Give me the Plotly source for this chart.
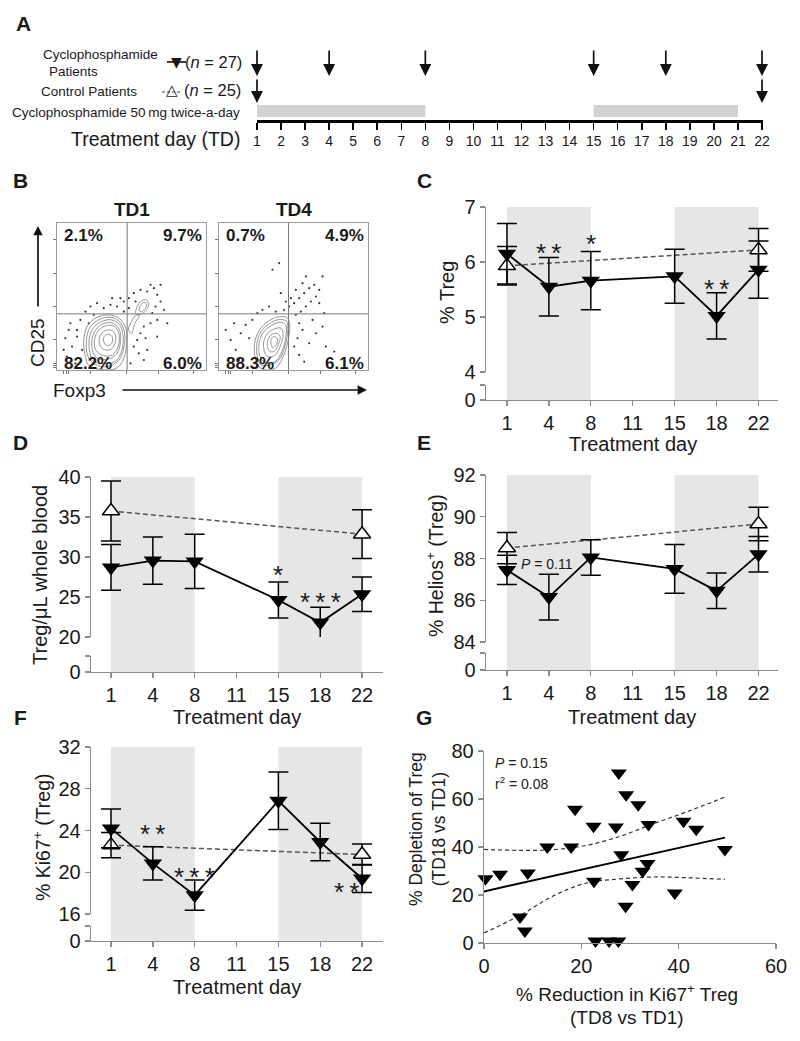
import plotly.graph_objects as go

FONT = "Liberation Sans, Arial, Helvetica, sans-serif"
W, H = 800, 1041
AX = "#8c8c8c"
TXT = "#1a1a1a"

# ------------------------------------------------------------------ data
timeline_days = [1, 2, 3, 4, 5, 6, 7, 8, 9, 10, 11, 12, 13, 14, 15, 16, 17, 18, 19, 20, 21, 22]
blood_draw_cyc = [1, 4, 8, 15, 18, 22]
blood_draw_ctl = [1, 22]
dosing_periods = [(1, 8), (15, 21)]

days = ["1", "4", "8", "11", "15", "18", "22"]
cyc_days = ["1", "4", "8", "15", "18", "22"]
ctl_days = ["1", "22"]
shade_periods = [("1", "8"), ("15", "22")]

# C: % Treg
treg_pct_cyc = [6.15, 5.55, 5.66, 5.74, 5.02, 5.86]
treg_pct_cyc_err = [0.55, 0.53, 0.53, 0.49, 0.42, 0.52]
treg_pct_ctl = [5.93, 6.22]
treg_pct_ctl_err = [0.35, 0.39]
treg_pct_stars = [("4", 0, 6.28, "**"), ("8", 0, 6.43, "*"), ("18", 0, 5.62, "**")]

# D: Treg / uL whole blood
treg_cnt_cyc = [28.7, 29.55, 29.45, 24.63, 21.8, 25.35]
treg_cnt_cyc_err = [2.85, 2.95, 3.4, 2.25, 1.93, 2.15]
treg_cnt_ctl = [35.75, 32.85]
treg_cnt_ctl_err = [3.75, 3.05]
treg_cnt_stars = [("15", 0, 28.5, "*"), ("18", 0, 25.1, "***")]

# E: % Helios+ (Treg)
helios_cyc = [87.45, 86.15, 88.05, 87.5, 86.45, 88.2]
helios_cyc_err = [0.7, 1.1, 0.85, 1.17, 0.85, 0.85]
helios_ctl = [88.5, 89.65]
helios_ctl_err = [0.75, 0.8]

# F: % Ki67+ (Treg)
ki67_cyc = [24.2, 20.85, 17.8, 26.85, 22.9, 19.4]
ki67_cyc_err = [1.85, 1.6, 1.45, 2.75, 1.8, 1.35]
ki67_ctl = [22.6, 21.7]
ki67_ctl_err = [1.2, 1.0]
ki67_stars = [("4", 0, 24.2, "**"), ("8", 0, 20.1, "***"), ("22", -0.38, 18.7, "**")]

# G: scatter
ki67_reduction = [0.3, 3.3, 9.0, 13.0, 17.9, 18.7, 7.4, 8.4, 22.5, 22.6, 22.9, 25.7, 27.6, 27.1,
                  27.7, 28.2, 29.2, 29.1, 30.5, 31.7, 32.6, 33.6, 33.8, 39.2, 41.0, 43.6, 49.5]
treg_depletion = [26.8, 28.6, 29.2, 40.0, 40.0, 55.7, 10.8, 5.0, 48.6, 25.7, 0.8, 0.8, 0.8, 48.3,
                  70.8, 36.8, 61.8, 15.3, 24.4, 57.6, 29.9, 33.1, 49.4, 20.8, 50.7, 47.4, 39.0]
fit_x = [0, 49.5]
fit_y = [21.5, 43.9]
band_x = [0, 7.4, 14.2, 21.1, 27.9, 34.8, 41.6, 49.5]
band_upper = [39.0, 38.6, 38.9, 40.7, 44.4, 49.7, 54.6, 60.8]
band_lower = [4.2, 11.5, 19.6, 25.0, 26.7, 27.5, 27.2, 26.5]

# B: flow cytometry (channel units)
td1_pct = ["2.1%", "9.7%", "82.2%", "6.0%"]
td4_pct = ["0.7%", "4.9%", "88.3%", "6.1%"]
td1_gate = (210, 168)
td4_gate = (208, 168)
td1_rings = [
    [(86, 35), (80, 85), (90, 130), (118, 157), (156, 165), (186, 155), (206, 125), (208, 80), (200, 35), (178, 5), (128, 2), (96, 12)],
    [(93, 40), (88, 88), (99, 128), (126, 151), (160, 158), (187, 145), (202, 112), (200, 68), (186, 30), (150, 10), (112, 18)],
    [(100, 45), (96, 90), (108, 125), (133, 145), (163, 150), (188, 135), (198, 100), (193, 55), (173, 25), (133, 20), (108, 27)],
    [(108, 52), (105, 92), (117, 122), (140, 139), (168, 140), (187, 120), (190, 85), (180, 50), (153, 32), (122, 35)],
    [(116, 60), (113, 95), (126, 120), (148, 133), (173, 130), (186, 105), (183, 70), (166, 45), (138, 43)],
    [(128, 75), (128, 100), (140, 115), (158, 120), (173, 110), (175, 85), (163, 63), (143, 60)],
    [(140, 85), (141, 100), (153, 107), (165, 100), (164, 80), (150, 73)],
    [(236, 167), (240, 190), (253, 207), (268, 210), (274, 197), (268, 180), (250, 167)],
    [(246, 177), (250, 193), (261, 202), (268, 197), (263, 183), (253, 175)],
    [(214, 120), (223, 145), (238, 165), (246, 163), (233, 140), (223, 110)],
]
td4_rings = [
    [(110, 30), (106, 75), (118, 115), (146, 145), (178, 159), (203, 157), (212, 135), (206, 85), (190, 35), (168, 5), (128, 3)],
    [(116, 35), (113, 78), (125, 114), (151, 139), (180, 151), (202, 146), (206, 118), (197, 70), (179, 30), (150, 14), (126, 15)],
    [(123, 40), (120, 80), (133, 113), (156, 133), (183, 143), (200, 135), (200, 100), (188, 55), (168, 25), (138, 23)],
    [(136, 55), (134, 85), (146, 110), (166, 123), (186, 125), (192, 105), (183, 70), (166, 43), (146, 40)],
    [(146, 67), (146, 90), (156, 105), (173, 110), (183, 100), (178, 77), (166, 57), (153, 55)],
    [(156, 77), (156, 93), (166, 100), (175, 93), (171, 75), (161, 67)],
]
td1_dots_x = [30, 45, 25, 60, 70, 55, 40, 85, 100, 120, 140, 160, 180, 200, 215, 230, 250, 270, 290, 300,
              310, 295, 285, 300, 280, 260, 250, 240, 230, 245, 260, 220, 75, 60, 95, 215, 235, 280, 310, 320,
              265, 200, 190, 165, 110, 35, 20, 270, 300, 330]
td1_dots_y = [40, 70, 95, 120, 150, 20, 140, 175, 190, 200, 185, 195, 190, 205, 215, 230, 240, 235, 245, 225,
              205, 190, 170, 150, 140, 130, 110, 90, 70, 50, 30, 20, 60, 100, 140, 185, 205, 255, 255, 180,
              95, 175, 215, 215, 165, 120, 60, 60, 100, 140]
td4_dots_x = [30, 50, 35, 65, 80, 100, 115, 130, 150, 170, 60, 90, 20, 45, 195, 210, 225, 240, 255, 270,
              285, 300, 290, 275, 260, 245, 230, 240, 250, 235, 225, 240, 255, 270, 290, 310, 315, 280, 215, 230,
              250, 300, 200, 185, 160, 180, 320, 345, 310, 260]
td4_dots_y = [35, 60, 90, 110, 135, 150, 170, 180, 190, 175, 30, 95, 120, 140, 180, 190, 200, 215, 230, 245,
              255, 240, 220, 205, 190, 175, 165, 140, 120, 95, 70, 45, 25, 80, 110, 130, 170, 150, 215, 240,
              260, 200, 205, 230, 300, 320, 70, 55, 280, 280]


def X(px):
    return px / W


def Y(py):
    return 1 - py / H


fig = go.Figure()
annotations = []
shapes = []


def ann(text, px, py, size=20, xanchor="center", yanchor="middle", angle=0, family=FONT, color=TXT):
    annotations.append(dict(text=text, x=X(px), y=Y(py), xref="paper", yref="paper", showarrow=False,
                            font=dict(size=size, family=family, color=color), xanchor=xanchor,
                            yanchor=yanchor, textangle=angle))


def arrow(x, py, ax, ay, xref="paper", size=1.1):
    annotations.append(dict(text="", x=x, y=Y(py), xref=xref, yref="paper", ax=ax, ay=ay,
                            axref="pixel", ayref="pixel", showarrow=True, arrowhead=2,
                            arrowsize=size, arrowwidth=1.7, arrowcolor="#111"))


common = dict(showline=True, linecolor=AX, linewidth=1.3, ticks="outside", ticklen=5, tickwidth=1.3,
              tickcolor=AX, showgrid=False, zeroline=False, fixedrange=True, automargin=False,
              tickfont=dict(size=20, color=TXT, family=FONT))
layout_axes = {}


def time_panel(nx, ny, nb, xl, xr, xrange, ytop, ybot, btop, bbot, yrange, yticks,
               cyc, cyc_err, ctl, ctl_err, stars):
    layout_axes[f"xaxis{nx}"] = dict(domain=[X(xl), X(xr)], type="category", categoryorder="array",
                                     categoryarray=days, range=xrange, anchor=f"y{nb}", **common)
    layout_axes[f"yaxis{ny}"] = dict(domain=[Y(ybot), Y(ytop)], range=yrange, tickvals=yticks,
                                     anchor=f"x{nx}", **common)
    layout_axes[f"yaxis{nb}"] = dict(domain=[Y(bbot), Y(btop)], range=[0, 1], tickvals=[0, 1],
                                     ticktext=["0", ""], anchor=f"x{nx}", **common)
    fig.add_trace(go.Scatter(x=[], y=[], xaxis=f"x{nx}", yaxis=f"y{nb}", showlegend=False))
    for a, b in shade_periods:
        shapes.append(dict(type="rect", xref=f"x{nx}", yref="paper", x0=days.index(a), x1=days.index(b),
                           y0=Y(bbot), y1=Y(ytop), fillcolor="#e6e6e6", line=dict(width=0), layer="below"))
    fig.add_trace(go.Scatter(
        x=ctl_days, y=ctl, xaxis=f"x{nx}", yaxis=f"y{ny}", mode="lines+markers", cliponaxis=False,
        line=dict(color="#555555", width=1.5, dash="5px,3px"),
        marker=dict(symbol="triangle-up", size=15, color="white", line=dict(color="black", width=1.5)),
        error_y=dict(type="data", array=ctl_err, color="black", thickness=1.5, width=10)))
    fig.add_trace(go.Scatter(
        x=cyc_days, y=cyc, xaxis=f"x{nx}", yaxis=f"y{ny}", mode="lines+markers", cliponaxis=False,
        line=dict(color="black", width=1.8),
        marker=dict(symbol="triangle-down", size=16, color="black"),
        error_y=dict(type="data", array=cyc_err, color="black", thickness=1.5, width=10)))
    for sday, off, sy, s in stars:
        annotations.append(dict(text="\u2009".join(s), x=days.index(sday) + off, y=sy, xref=f"x{nx}",
                                yref=f"y{ny}", showarrow=False, yshift=-6,
                                font=dict(size=26, family=FONT, color=TXT)))


# C
time_panel(2, 2, 3, 486, 778, [-0.5, 6.465], 207, 372, 385, 400, [4, 7], [4, 5, 6, 7],
           treg_pct_cyc, treg_pct_cyc_err, treg_pct_ctl, treg_pct_ctl_err, treg_pct_stars)
# D
time_panel(4, 4, 5, 91, 383, [-0.478, 6.5], 477, 637, 656, 672, [20, 40], [20, 25, 30, 35, 40],
           treg_cnt_cyc, treg_cnt_cyc_err, treg_cnt_ctl, treg_cnt_ctl_err, treg_cnt_stars)
# E
time_panel(6, 6, 7, 486, 778, [-0.5, 6.465], 475, 642, 653, 670, [84, 92], [84, 86, 88, 90, 92],
           helios_cyc, helios_cyc_err, helios_ctl, helios_ctl_err, [])
# F
time_panel(8, 8, 9, 91, 383, [-0.478, 6.5], 747, 914, 926, 941, [16, 32], [16, 20, 24, 28, 32],
           ki67_cyc, ki67_cyc_err, ki67_ctl, ki67_ctl_err, ki67_stars)

# G
layout_axes["xaxis10"] = dict(domain=[X(484), X(776)], range=[0, 60], tickvals=[0, 20, 40, 60],
                              anchor="y10", **common)
layout_axes["yaxis10"] = dict(domain=[Y(943), Y(751)], range=[0, 80], tickvals=[0, 20, 40, 60, 80],
                              anchor="x10", **common)
for yb in (band_upper, band_lower):
    fig.add_trace(go.Scatter(x=band_x, y=yb, xaxis="x10", yaxis="y10", mode="lines",
                             line=dict(color="#333", width=1.2, dash="4px,3px", shape="spline")))
fig.add_trace(go.Scatter(x=fit_x, y=fit_y, xaxis="x10", yaxis="y10", mode="lines",
                         line=dict(color="black", width=2)))
fig.add_trace(go.Scatter(x=ki67_reduction, y=treg_depletion, xaxis="x10", yaxis="y10", mode="markers",
                         cliponaxis=False, marker=dict(symbol="triangle-down", size=14, color="black")))

# A timeline
layout_axes["xaxis"] = dict(domain=[X(256.5), X(762.5)], range=[0.98, 22.02], tickvals=timeline_days,
                            anchor="y", showline=True, linecolor="black", linewidth=2.5, ticks="outside",
                            ticklen=7, tickwidth=1.5, tickcolor="black", showgrid=False, zeroline=False,
                            automargin=False,
                            tickfont=dict(size=14, color=TXT, family=FONT), fixedrange=True)
layout_axes["yaxis"] = dict(domain=[Y(120), Y(100)], range=[0, 1], visible=False, fixedrange=True,
                            automargin=False)
fig.add_trace(go.Scatter(x=[], y=[], xaxis="x", yaxis="y", showlegend=False))
for a, b in dosing_periods:
    shapes.append(dict(type="rect", xref="x", yref="paper", x0=a, x1=b, y0=Y(117), y1=Y(105),
                       fillcolor="#d2d2d2", line=dict(width=0)))
for d in blood_draw_cyc:
    arrow(d, 76, 0, -27, xref="x", size=1.4)
for d in blood_draw_ctl:
    arrow(d, 103, 0, -25, xref="x", size=1.4)

ann("Cyclophosphamide", 100, 55, size=13.5)
ann("Patients", 73, 72, size=13.5)
ann("Control Patients", 89, 91, size=13.5)
ann("Cyclophosphamide 50\u2009mg twice-a-day", 242, 112, size=13.5, xanchor="right")
ann("Treatment day (TD)", 242, 139, size=19.5, xanchor="right")
shapes.append(dict(type="line", xref="paper", yref="paper", x0=X(167), x1=X(186), y0=Y(62), y1=Y(62),
                   line=dict(color="black", width=1.5)))
shapes.append(dict(type="line", xref="paper", yref="paper", x0=X(162), x1=X(181), y0=Y(92), y1=Y(92),
                   line=dict(color="#444", width=1.2, dash="3px,2px")))
ann("\u25BC", 176, 62, size=14, family="DejaVu Sans")
ann("\u25B3", 172, 90, size=15, family="DejaVu Sans")
ann("(<i>n</i> = 27)", 244, 62, size=16.5, xanchor="right")
ann("(<i>n</i> = 25)", 243, 90, size=16.5, xanchor="right")

# B flow plots
flow_tick_x = [20, 28, 34, 100, 208, 303, 408]
flow_tick_y = [8, 14, 20, 90, 190, 290, 390]
for nx, xl, xr, rings, gate, dx, dy, pct, title in (
        (11, 57, 206, td1_rings, td1_gate, td1_dots_x, td1_dots_y, td1_pct, "TD1"),
        (12, 219, 368, td4_rings, td4_gate, td4_dots_x, td4_dots_y, td4_pct, "TD4")):
    fstyle = dict(showline=True, mirror=True, linecolor="#9a9a9a", linewidth=1, ticks="outside",
                  ticklen=3, tickwidth=1, tickcolor="#777", showticklabels=False, showgrid=False,
                  zeroline=False, fixedrange=True, automargin=False)
    layout_axes[f"xaxis{nx}"] = dict(domain=[X(xl), X(xr)], range=[0, 446], tickvals=flow_tick_x,
                                     anchor=f"y{nx}", **fstyle)
    layout_axes[f"yaxis{nx}"] = dict(domain=[Y(370), Y(223)], range=[0, 440], tickvals=flow_tick_y,
                                     anchor=f"x{nx}", **fstyle)
    fig.add_trace(go.Scatter(x=dx, y=dy, xaxis=f"x{nx}", yaxis=f"y{nx}", mode="markers",
                             marker=dict(size=2.2, color="#3a3a3a")))
    for ring in rings:
        rx = [p[0] for p in ring] + [ring[0][0]]
        ry = [p[1] for p in ring] + [ring[0][1]]
        fig.add_trace(go.Scatter(x=rx, y=ry, xaxis=f"x{nx}", yaxis=f"y{nx}", mode="lines",
                                 line=dict(color="#8a8a8a", width=0.9, shape="spline")))
    shapes.append(dict(type="line", xref=f"x{nx}", yref=f"y{nx}", x0=gate[0], x1=gate[0], y0=0, y1=440,
                       line=dict(color="#7a7a7a", width=1)))
    shapes.append(dict(type="line", xref=f"x{nx}", yref=f"y{nx}", x0=0, x1=446, y0=gate[1], y1=gate[1],
                       line=dict(color="#7a7a7a", width=1)))
    ann("<b>%s</b>" % pct[0], xl + 5, 235, size=17, xanchor="left")
    ann("<b>%s</b>" % pct[1], xr - 2, 235, size=17, xanchor="right")
    ann("<b>%s</b>" % pct[2], xl + 5, 363, size=17, xanchor="left")
    ann("<b>%s</b>" % pct[3], xr - 2, 363, size=17, xanchor="right")
    ann("<b>%s</b>" % title, (xl + xr) / 2, 210, size=19)

ann("CD25", 38, 343, size=19, angle=-90)
arrow(X(38), 226, 0, 82)
ann("Foxp3", 79, 390, size=19)
arrow(X(367), 390, -246, 0)

# axis titles
ann("% Treg", 447, 293, size=20, angle=-90)
ann("Treatment day", 633, 444, size=20)
ann("Treg/\u03bcL whole blood", 40, 575, size=20, angle=-90)
ann("Treatment day", 237, 717, size=20)
ann("% Helios<sup>+</sup> (Treg)", 435, 565, size=19.5, angle=-90)
ann("Treatment day", 632, 717, size=20)
ann("<i>P</i> = 0.11", 547, 564, size=14)
ann("% Ki67<sup>+</sup> (Treg)", 42, 837, size=19.5, angle=-90)
ann("Treatment day", 237, 987, size=20)
ann("% Depletion of Treg<br>(TD18 vs TD1)", 427, 829, size=17.5, angle=-90)
ann("% Reduction in Ki67<sup>+</sup> Treg", 627, 993, size=19)
ann("(TD8 vs TD1)", 627, 1017, size=19)
ann("<i>P</i> = 0.15", 493, 763, size=14, xanchor="left")
ann("r<sup>2</sup> = 0.08", 493, 783, size=14, xanchor="left")

# panel letters
for letter, px, py in (("A", 23, 24), ("B", 20, 180), ("C", 424, 180), ("D", 20, 442),
                       ("E", 424, 442), ("F", 20, 717), ("G", 424, 717)):
    ann("<b>%s</b>" % letter, px, py, size=21)

fig.update_layout(width=W, height=H, margin=dict(l=0, r=0, t=0, b=0, pad=0, autoexpand=False),
                  showlegend=False, paper_bgcolor="white", plot_bgcolor="white",
                  font=dict(family=FONT, color=TXT), annotations=annotations, shapes=shapes,
                  **layout_axes)
fig.write_html(
    "out.html",
    config={"displayModeBar": False, "staticPlot": True},
    post_script=(
        "document.documentElement.style.margin='0';document.documentElement.style.padding='0';"
        "document.documentElement.style.overflow='hidden';"
        "document.body.style.margin='0';document.body.style.padding='0';document.body.style.overflow='hidden';"
        "var gd=document.getElementById('{plot_id}');gd.style.position='fixed';"
        "gd.style.left='0px';gd.style.top='0px';"
    ),
)
